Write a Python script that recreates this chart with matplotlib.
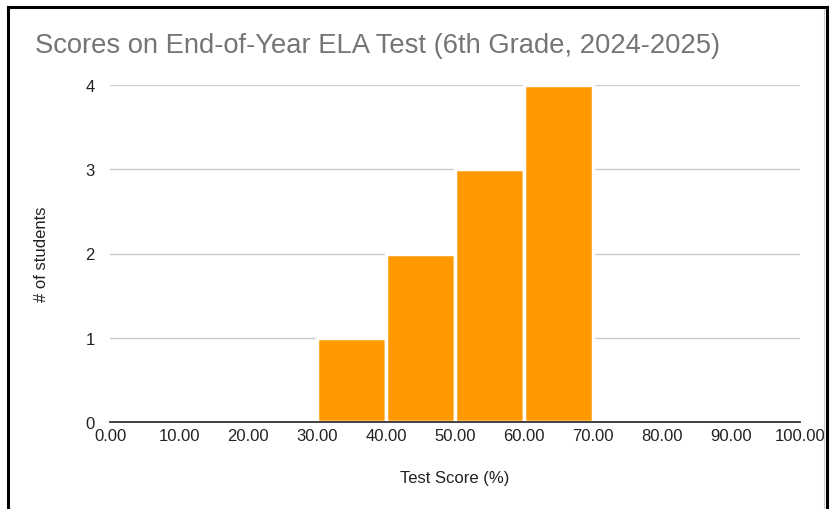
import matplotlib.pyplot as plt
from matplotlib.lines import Line2D

# Histogram data (bin edges and student counts)
bin_starts = [30, 40, 50, 60]
bin_width = 10
counts = [1, 2, 3, 4]
x_ticks = [0, 10, 20, 30, 40, 50, 60, 70, 80, 90, 100]
y_ticks = [0, 1, 2, 3, 4]

plt.rcParams["font.family"] = ["Liberation Sans", "DejaVu Sans"]

fig = plt.figure(figsize=(8.3, 5.1), dpi=100)
ax = fig.add_axes([110 / 830, 1 - 423 / 510, 690 / 830, 337 / 510])

ax.bar(bin_starts, counts, width=bin_width, align="edge", color="#ff9900",
       edgecolor="white", linewidth=2.5, zorder=3)

ax.set_xlim(0, 100)
ax.set_ylim(0, 4)
ax.set_xticks(x_ticks)
ax.set_xticklabels([f"{v:.2f}" for v in x_ticks])
ax.set_yticks(y_ticks)
ax.tick_params(axis="both", length=0, labelsize=12, colors="#222222")
ax.tick_params(axis="x", pad=4)
ax.tick_params(axis="y", pad=11)

ax.grid(axis="y", color="#cccccc", linewidth=1, zorder=0)
ax.set_axisbelow(True)
for side in ["top", "right", "left"]:
    ax.spines[side].set_visible(False)
ax.spines["bottom"].set_color("#333333")
ax.spines["bottom"].set_linewidth(1.3)
ax.spines["bottom"].set_zorder(4)

ax.set_xlabel("Test Score (%)", fontsize=12, color="#222222", labelpad=20)
ax.set_ylabel("# of students", fontsize=12, color="#222222", labelpad=26)

fig.text(35 / 830, 1 - 46 / 510, "Scores on End-of-Year ELA Test (6th Grade, 2024-2025)",
         fontsize=19.7, color="#757575", va="center", ha="left")

# Screenshot frame
fig.add_artist(Line2D([8 / 830, 8 / 830], [0, 1 - 8 / 510], color="black", linewidth=2.2))
fig.add_artist(Line2D([8 / 830, 827 / 830], [1 - 8 / 510, 1 - 8 / 510], color="black", linewidth=2.2))
fig.add_artist(Line2D([827 / 830, 827 / 830], [0, 1 - 8 / 510], color="black", linewidth=2.2))
fig.add_artist(Line2D([824 / 830, 824 / 830], [0, 1 - 10 / 510], color="#cccccc", linewidth=0.8))

fig.savefig("out.png", dpi=100)
